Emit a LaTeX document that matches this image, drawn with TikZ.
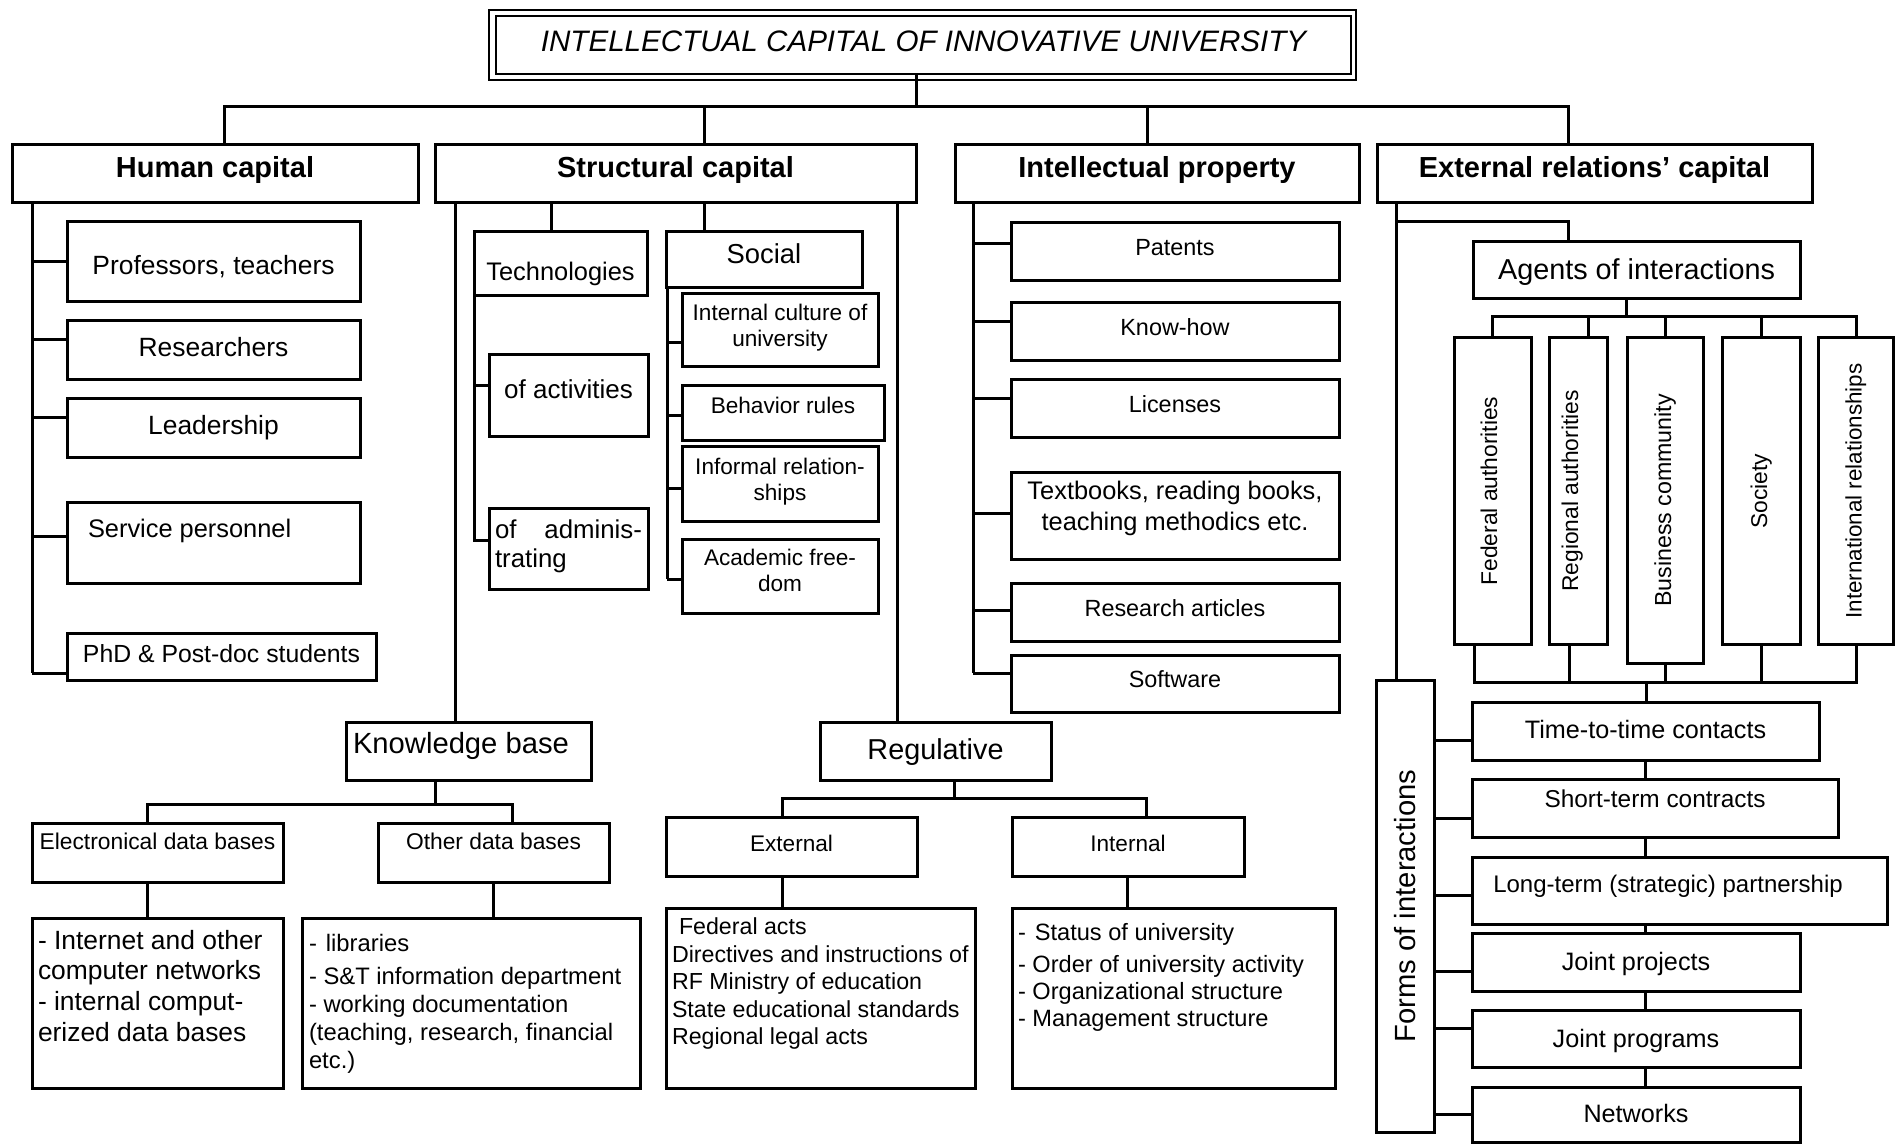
\documentclass[tikz,border=0pt]{standalone}
\usepackage{fontspec}
\setmainfont{Liberation Sans}
\usepackage{graphicx}
\usetikzlibrary{calc}
\newdimen\pxd \pxd=-0.5pt
\newdimen\pxr \pxr=0.5pt
% baseline of centred text at box centre + #1 px (downwards)
\newcommand\cbase[2]{\raisebox{#1\pxd}[0pt][0pt]{\makebox[0pt]{#2}}}
% centred text shifted by #1 px horizontally
\newcommand\cbasex[3]{\raisebox{#2\pxd}[0pt][0pt]{\makebox[0pt][l]{\hspace*{#1\pxr}\makebox[0pt]{#3}}}}
% left text: left edge at centre + #1 px, first baseline at centre + #2 px
\newcommand\lbase[3]{\raisebox{#2\pxd}[0pt][0pt]{\makebox[0pt][l]{\hspace*{#1\pxr}#3}}}
\newcommand\fsz[2]{\fontsize{#1}{#2}\selectfont}
\newcommand\mybox[7][]{\node[bx,minimum width={(#5-#3)*0.5pt},minimum height={(#6-#4)*0.5pt},#1] (#2) at ({(#3+#5)/2},{(#4+#6)/2}) {#7};}
\tikzset{
  bx/.style={draw, line width=1.5pt, inner sep=0pt, outer sep=0pt, rectangle},
  ln/.style={line width=1.5pt},
  hd/.style={font=\fsz{14.5}{17}\bfseries},
}
\begin{document}
\begin{tikzpicture}[x=0.5pt,y=-0.5pt]
\fill[white] (0,0) rectangle (1895,1144);
\useasboundingbox (0,0) rectangle (1895,1144);

% ---------- title ----------
\mybox[line width=1.2pt,font=\fsz{14.8}{17}\itshape]{title}{496}{16}{1351}{74}{\cbase{7}{INTELLECTUAL CAPITAL OF INNOVATIVE UNIVERSITY}}
\draw[line width=0.8pt] ($(title.north west)+(-7,-6)$) rectangle ($(title.south east)+(5,6)$);

% ---------- level 1 ----------
\mybox[hd]{hc}{12}{145}{418}{203}{\cbase{4}{Human capital}}
\mybox[hd]{sc}{435}{145}{916}{203}{\cbase{4}{Structural capital}}
\mybox[hd]{ip}{955}{145}{1359}{203}{\cbase{4}{Intellectual property}}
\mybox[hd]{er}{1377}{145}{1812}{203}{\cbase{4}{External relations’ capital}}

% ---------- human capital ----------
\mybox[font=\fsz{13.2}{16}]{prof}{67}{222}{360}{302}{\cbase{13}{Professors, teachers}}
\mybox[font=\fsz{13.2}{16}]{res}{67}{321}{360}{380}{\cbase{6}{Researchers}}
\mybox[font=\fsz{13.2}{16}]{lead}{67}{399}{360}{458}{\cbase{6.5}{Leadership}}
\mybox[font=\fsz{12.7}{15}]{svc}{67}{502}{360}{583}{\lbase{-125.5}{-5.5}{Service personnel}}
\mybox[font=\fsz{12.4}{15}]{phd}{67}{633}{376}{680}{\cbase{6}{PhD \& Post-doc students}}

% ---------- structural capital ----------
\mybox[font=\fsz{12.7}{15}]{tech}{474}{232}{647}{296}{\cbase{17}{Technologies}}
\mybox[font=\fsz{13}{15}]{act}{489}{355}{648}{437}{\cbase{3}{of activities}}
\mybox[font=\fsz{12.9}{14.5}]{adm}{489}{508}{648}{589}{\lbase{-73.5}{-10.5}{\begin{tabular}[t]{@{}l@{}}\makebox[73.5pt][s]{of\hfill adminis-}\\trating\end{tabular}}}
\mybox[font=\fsz{13.7}{16}]{soc}{666}{232}{862}{288}{\cbase{4}{Social}}
\mybox[font=\fsz{11.3}{13}]{ic}{682}{294}{878}{367}{\cbase{-9.8}{\begin{tabular}[t]{@{}c@{}}Internal culture of\\university\end{tabular}}}
\mybox[font=\fsz{11.3}{13}]{br}{682}{386}{884}{441}{\cbase{0.5}{Behavior rules}}
\mybox[font=\fsz{11.3}{13}]{inf}{682}{447}{878}{521}{\cbase{-10}{\begin{tabular}[t]{@{}c@{}}Informal relation-\\ships\end{tabular}}}
\mybox[font=\fsz{11.3}{13}]{acad}{682}{539}{878}{613}{\cbase{-10.3}{\begin{tabular}[t]{@{}c@{}}Academic free-\\dom\end{tabular}}}

% ---------- knowledge base ----------
\mybox[font=\fsz{14.6}{17}]{kb}{346}{722}{591}{780}{\lbase{-115.5}{2}{Knowledge base}}
\mybox[font=\fsz{11.4}{13}]{edb}{32}{823}{283}{882}{\cbase{-3.5}{Electronical data bases}}
\mybox[font=\fsz{11.4}{13}]{odb}{378}{823}{609}{882}{\cbase{-3.5}{Other data bases}}
\mybox[font=\fsz{13.2}{15.35}]{inet}{32}{918}{283}{1088}{\lbase{-119.5}{-54}{\begin{tabular}[t]{@{}l@{}}- Internet and other\\computer networks\\- internal comput-\\erized data bases\end{tabular}}}
\mybox[font=\fsz{11.9}{14}]{lib}{302}{918}{640}{1088}{\lbase{-162}{-52}{\begin{tabular}[t]{@{}l@{}}-\hspace{4.5pt}libraries\\[2.5pt]- S\&T information department\\- working documentation\\(teaching, research, financial\\etc.)\end{tabular}}}

% ---------- regulative ----------
\mybox[font=\fsz{14.4}{17}]{reg}{820}{722}{1051}{780}{\cbase{8}{Regulative}}
\mybox[font=\fsz{11.3}{13}]{ext}{666}{817}{917}{876}{\cbase{4.5}{External}}
\mybox[font=\fsz{11.3}{13}]{int}{1012}{817}{1244}{876}{\cbase{4.5}{Internal}}
\mybox[font=\fsz{11.6}{13.75}]{fed}{666}{908}{975}{1088}{\lbase{-148.5}{-63.4}{\begin{tabular}[t]{@{}l@{}}\hspace*{3.5pt}Federal acts\\Directives and instructions of\\RF Ministry of education\\State educational standards\\Regional legal acts\end{tabular}}}
\mybox[font=\fsz{11.8}{13.5}]{stat}{1012}{908}{1335}{1088}{\lbase{-155.5}{-58}{\begin{tabular}[t]{@{}l@{}}-\hspace{4.5pt}Status of university\\[2.5pt]- Order of university activity\\- Organizational structure\\- Management structure\end{tabular}}}

% ---------- intellectual property ----------
\mybox[font=\fsz{11.7}{14}]{pat}{1011}{223}{1339}{281}{\cbase{4}{Patents}}
\mybox[font=\fsz{11.7}{14}]{kh}{1011}{303}{1339}{361}{\cbase{4}{Know-how}}
\mybox[font=\fsz{11.7}{14}]{lic}{1011}{380}{1339}{438}{\cbase{3.7}{Licenses}}
\mybox[font=\fsz{12.7}{15.5}]{tb}{1011}{472}{1339}{559}{\cbase{-16.5}{\begin{tabular}[t]{@{}c@{}}Textbooks, reading books,\\teaching methodics etc.\end{tabular}}}
\mybox[font=\fsz{11.7}{14}]{ra}{1011}{583}{1339}{641}{\cbase{4.7}{Research articles}}
\mybox[font=\fsz{11.7}{14}]{sw}{1011}{655}{1339}{712}{\cbase{4}{Software}}

% ---------- external relations ----------
\mybox[font=\fsz{14.4}{17}]{ag}{1473}{242}{1800}{299}{\cbase{9}{Agents of interactions}}
\mybox[font=\fsz{11.4}{13}]{fa}{1454}{338}{1531}{644}{\rotatebox{90}{\cbase{4.5}{Federal authorities}}}
\mybox[font=\fsz{11.4}{13}]{ra2}{1549}{338}{1607}{644}{\rotatebox{90}{\cbase{0}{Regional authorities}}}
\mybox[font=\fsz{11.6}{13}]{bc}{1627}{338}{1703}{663}{\rotatebox{90}{\cbase{6}{Business community}}}
\mybox[font=\fsz{11.4}{13}]{so}{1722}{338}{1800}{644}{\rotatebox{90}{\cbase{6}{Society}}}
\mybox[font=\fsz{11.2}{13}]{intl}{1818}{338}{1893}{644}{\rotatebox{90}{\cbase{6}{International relationships}}}

\mybox[font=\fsz{14.6}{17}]{foi}{1376}{680}{1434}{1132}{\rotatebox{90}{\cbase{10.5}{Forms of interactions}}}
\mybox[font=\fsz{12.6}{15}]{ttc}{1472}{702}{1819}{760}{\cbase{7}{Time-to-time contacts}}
\mybox[font=\fsz{12.2}{15}]{stc}{1472}{779}{1838}{837}{\cbase{-1}{Short-term contracts}}
\mybox[font=\fsz{12}{15}]{ltp}{1472}{857}{1887}{924}{\cbasex{-11.5}{1.5}{Long-term (strategic) partnership}}
\mybox[font=\fsz{12.6}{15}]{jp}{1472}{933}{1800}{991}{\cbase{8}{Joint projects}}
\mybox[font=\fsz{12.6}{15}]{jpr}{1472}{1010}{1800}{1067}{\cbase{8.5}{Joint programs}}
\mybox[font=\fsz{12.6}{15}]{net}{1472}{1087}{1800}{1142}{\cbase{7.5}{Networks}}

% ================= connectors =================
% title to level 1
\draw[ln] ($(title.south)+(-7.5,0)$) -- ++(0,33);
\draw[ln] ($(hc.north)+(9,0)$) -- ++(0,-38) -| ($(er.north)+(-26.5,0)$);
\draw[ln] ($(sc.north)+(28.5,0)$) -- ++(0,-38);
\draw[ln] ($(ip.north)+(-10,0)$) -- ++(0,-38);

% human capital
\draw[ln] ($(hc.south west)+(20,0)$) -- ++(0,470);
\draw[ln] (prof.west) -- ++(-35,0);
\draw[ln] ($(res.west)+(0,-10.5)$) -- ++(-35,0);
\draw[ln] ($(lead.west)+(0,-10.5)$) -- ++(-35,0);
\draw[ln] ($(svc.west)+(0,-6.5)$) -- ++(-35,0);
\draw[ln] ($(phd.west)+(0,16.5)$) -- ++(-35,0);

% structural capital
\draw[ln] ($(sc.south west)+(20,0)$) -- ($(kb.north)+(-13.5,0)$);
\draw[ln] ($(sc.south east)+(-19,0)$) -- ($(reg.north)+(-38.5,0)$);
\draw[ln] ($(tech.north)+(-9.5,0)$) -- ++(0,-29);
\draw[ln] ($(soc.north)+(-60,0)$) -- ++(0,-29);
\draw[ln] (tech.south west) -- ++(0,244);
\draw[ln] ($(act.west)+(0,-10)$) -- ++(-16,0);
\draw[ln] ($(adm.west)+(0,-8.5)$) -- ++(-16,0);
\draw[ln] ($(soc.south west)+(1,0)$) -- ++(0,291);
\draw[ln] ($(ic.west)+(0,12.5)$) -- ++(-15,0);
\draw[ln] ($(br.west)+(0,2.5)$) -- ++(-15,0);
\draw[ln] ($(inf.west)+(0,4)$) -- ++(-15,0);
\draw[ln] ($(acad.west)+(0,3)$) -- ++(-15,0);

% knowledge base
\draw[ln] ($(kb.south)+(-33.5,0)$) -- ++(0,24);
\draw[ln] ($(edb.north)+(-10.5,0)$) -- ++(0,-19) -| ($(odb.north)+(18.5,0)$);
\draw[ln] ($(edb.south)+(-10.5,0)$) -- ($(inet.north)+(-10.5,0)$);
\draw[ln] ($(odb.south)+(-0.5,0)$) -- ($(lib.north)+(22,0)$);

% regulative
\draw[ln] ($(reg.south)+(18.5,0)$) -- ++(0,18);
\draw[ln] ($(ext.north)+(-9.5,0)$) -- ++(0,-19) -| ($(int.north)+(18,0)$);
\draw[ln] ($(ext.south)+(-9.5,0)$) -- ($(fed.north)+(-38.5,0)$);
\draw[ln] ($(int.south)+(-1,0)$) -- ($(stat.north)+(-46.5,0)$);

% intellectual property
\draw[ln] ($(ip.south west)+(18,0)$) -- ++(0,470);
\draw[ln] ($(pat.west)+(0,-8)$) -- ++(-38,0);
\draw[ln] ($(kh.west)+(0,-10)$) -- ++(-38,0);
\draw[ln] ($(lic.west)+(0,-10)$) -- ++(-38,0);
\draw[ln] ($(tb.west)+(0,-2.5)$) -- ++(-38,0);
\draw[ln] ($(ra.west)+(0,-2)$) -- ++(-38,0);
\draw[ln] ($(sw.west)+(0,-10.5)$) -- ++(-38,0);

% external relations
\draw[ln] ($(er.south west)+(19,0)$) -- ($(foi.north)+(-9,0)$);
\draw[ln] ($(ag.north)+(-68.5,0)$) -- ++(0,-20) -- ++(-172,0);
\draw[ln] ($(ag.south)+(-10.5,0)$) -- ++(0,18);
\draw[ln] (fa.north) -- ++(0,-21) -| ($(intl.north)+(1,0)$);
\draw[ln] ($(ra2.north)+(10,0)$) -- ++(0,-21);
\draw[ln] (bc.north) -- ++(0,-21);
\draw[ln] (so.north) -- ++(0,-21);
\draw[ln] ($(fa.south)+(-18.5,0)$) -- ++(0,38) -| ($(intl.south)+(1,0)$);
\draw[ln] ($(ra2.south)+(-9,0)$) -- ++(0,38);
\draw[ln] (bc.south) -- ++(0,19);
\draw[ln] (so.south) -- ++(0,38);
\draw[ln] ($(ttc.north)+(0.5,0)$) -- ++(0,-20);

% forms of interactions
\draw[ln] ($(ttc.west)+(0,9)$) -- ++(-38,0);
\draw[ln] ($(stc.west)+(0,10)$) -- ++(-38,0);
\draw[ln] ($(ltp.west)+(0,4.5)$) -- ++(-38,0);
\draw[ln] ($(jp.west)+(0,9)$) -- ++(-38,0);
\draw[ln] ($(jpr.west)+(0,-10.5)$) -- ++(-38,0);
\draw[ln] (net.west) -- ++(-38,0);
\draw[ln] ($(ttc.south)+(-0.5,0)$) -- ($(stc.north)+(-10,0)$);
\draw[ln] ($(stc.south)+(-10,0)$) -- ($(ltp.north)+(-34.5,0)$);
\draw[ln] ($(ltp.south)+(-34.5,0)$) -- ($(jp.north)+(9,0)$);
\draw[ln] ($(jp.south)+(9,0)$) -- ($(jpr.north)+(9,0)$);
\draw[ln] ($(jpr.south)+(9,0)$) -- ($(net.north)+(9,0)$);
\end{tikzpicture}
\end{document}
